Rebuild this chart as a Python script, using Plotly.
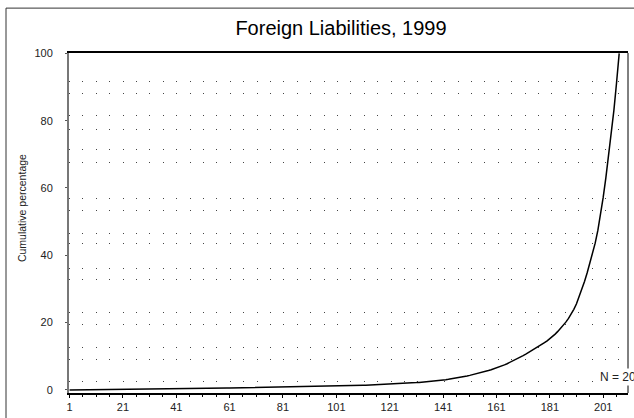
import plotly.graph_objects as go

title_text = "Foreign Liabilities, 1999"
y_title = "Cumulative percentage"
n_label = "N = 207"

# cumulative percentage by rank
cum_pct = [
    0.003, 0.008, 0.014, 0.021, 0.029, 0.037, 0.046, 0.055, 0.064, 0.073,
    0.082, 0.091, 0.100, 0.109, 0.118, 0.127, 0.136, 0.145, 0.154, 0.163,
    0.172, 0.181, 0.190, 0.199, 0.208, 0.217, 0.226, 0.235, 0.244, 0.253,
    0.263, 0.273, 0.283, 0.293, 0.303, 0.313, 0.323, 0.333, 0.343, 0.353,
    0.363, 0.373, 0.383, 0.393, 0.403, 0.413, 0.424, 0.435, 0.446, 0.457,
    0.468, 0.479, 0.490, 0.501, 0.512, 0.523, 0.534, 0.545, 0.557, 0.569,
    0.581, 0.593, 0.605, 0.617, 0.629, 0.641, 0.653, 0.666, 0.679, 0.692,
    0.705, 0.718, 0.731, 0.744, 0.757, 0.770, 0.784, 0.798, 0.812, 0.826,
    0.840, 0.854, 0.868, 0.882, 0.896, 0.910, 0.925, 0.940, 0.955, 0.970,
    0.985, 1.000, 1.015, 1.031, 1.047, 1.063, 1.079, 1.095, 1.112, 1.129,
    1.148, 1.168, 1.189, 1.211, 1.234, 1.258, 1.283, 1.309, 1.336, 1.364,
    1.393, 1.423, 1.454, 1.486, 1.519, 1.553, 1.588, 1.624, 1.661, 1.699,
    1.738, 1.778, 1.819, 1.861, 1.904, 1.948, 1.993, 2.039, 2.086, 2.134,
    2.19, 2.25, 2.31, 2.38, 2.45, 2.52, 2.60, 2.68, 2.77, 2.86,
    2.96, 3.06, 3.17, 3.28, 3.40, 3.53, 3.67, 3.82, 3.98, 4.15,
    4.33, 4.51, 4.70, 4.90, 5.10, 5.31, 5.53, 5.76, 6.00, 6.25,
    6.52, 6.81, 7.12, 7.45, 7.80, 8.17, 8.56, 8.96, 9.37, 9.79,
    10.22, 10.66, 11.11, 11.57, 12.04, 12.52, 13.01, 13.51, 14.03, 14.58,
    15.20, 15.87, 16.60, 17.40, 18.25, 19.15, 20.15, 21.25, 22.50, 23.95,
    25.60, 27.60, 29.80, 32.20, 34.80, 37.50, 40.40, 43.60, 47.40, 51.90,
    57.20, 63.00, 69.20, 75.80, 83.00, 91.20, 100.00,
]
ranks = list(range(1, len(cum_pct) + 1))

x_tick_vals = [1, 21, 41, 61, 81, 101, 121, 141, 161, 181, 201]
y_tick_vals = [0, 20, 40, 60, 80, 100]
grid_rows = [2.5, 9.0, 12.6, 19.4, 23.0, 32.9, 36.1, 43.4, 46.6,
             53.4, 57.0, 67.5, 71.3, 77.5, 81.4, 88.2, 91.5]

FONT = "Liberation Sans, Arial, sans-serif"

fig = go.Figure()
fig.add_trace(go.Scatter(
    x=ranks, y=cum_pct, mode="lines",
    line=dict(color="black", width=1.5),
    hoverinfo="skip", showlegend=False,
))

fig.update_layout(
    width=634, height=418,
    margin=dict(l=69, r=6, t=53, b=25, autoexpand=False),
    paper_bgcolor="white", plot_bgcolor="white",
    font=dict(family=FONT, size=11, color="#222"),
    title=dict(text=title_text, x=0.4866, xref="paper", xanchor="center",
               y=1 - 28 / 418, yref="container", yanchor="middle",
               automargin=False,
               font=dict(family=FONT, size=20, color="black")),
    xaxis=dict(
        range=[0.8, 210.3], tickmode="array", tickvals=x_tick_vals,
        automargin=False,
        ticks="outside", ticklen=3, tickcolor="black", tickwidth=1,
        showline=True, linecolor="black", linewidth=1.5, mirror=True,
        showgrid=False, zeroline=False,
        tickfont=dict(size=11, color="#222"),
        minor=dict(tick0=1, dtick=5, ticks="outside", ticklen=2,
                   tickcolor="black", showgrid=False),
    ),
    yaxis=dict(
        range=[-0.9, 100.1], tickmode="array", tickvals=y_tick_vals,
        automargin=False,
        ticks="outside", ticklen=2, tickcolor="#555",
        showline=True, linecolor="#777", linewidth=2,
        showgrid=False, zeroline=False, ticklabelstandoff=10,
        tickfont=dict(size=11, color="#222"),
        minor=dict(tickmode="array", tickvals=grid_rows, ticks="",
                   showgrid=True, gridcolor="#444", gridwidth=1,
                   griddash="1px,12.4px"),
    ),
    shapes=[
        dict(type="line", xref="paper", yref="paper", x0=1, x1=1, y0=0, y1=1,
             line=dict(color="black", width=1)),
        dict(type="rect", xref="paper", yref="paper",
             x0=-0.1127, x1=1.2, y0=-0.3, y1=1.132,
             line=dict(color="#333", width=1)),
    ],
    annotations=[
        dict(text=y_title, xref="paper", yref="paper", x=-0.084, y=0.544,
             textangle=-90, showarrow=False, xanchor="center", yanchor="middle",
             font=dict(family=FONT, size=10.5, color="#222")),
        dict(text=n_label, xref="paper", yref="paper", x=0.946, y=0.047,
             xanchor="left", yanchor="middle", showarrow=False,
             bgcolor="white", font=dict(family=FONT, size=12, color="#222")),
    ],
)

fig.write_html("out.html", config={"displayModeBar": False},
               post_script="document.body.style.margin='0px';")
